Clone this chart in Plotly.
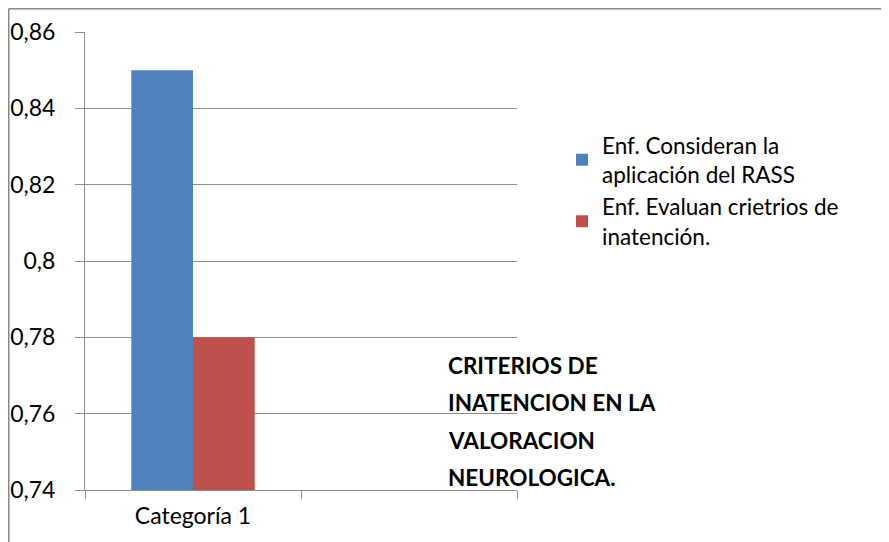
import plotly.graph_objects as go

categories = ["Categoría 1", " "]
series_names = ["Enf. Consideran la<br>aplicación del RASS", "Enf. Evaluan crietrios de<br>inatención."]
serie_rass = [0.85, None]
serie_inatencion = [0.78, None]
colors = ["#4F81BD", "#C0504D"]
y_ticks = [0.74, 0.76, 0.78, 0.80, 0.82, 0.84, 0.86]
title_lines = ["CRITERIOS DE", "INATENCION EN LA", "VALORACION", "NEUROLOGICA."]

FONT = "Lato"
GRID = "#8c8c8c"

fig = go.Figure()
for name, vals, col in zip(series_names, [serie_rass, serie_inatencion], colors):
    fig.add_trace(go.Bar(x=categories, y=vals, name=name, marker=dict(color=col, line=dict(width=0))))

# page has an 8px body margin: figure coords = page coords - 8
OFF = 8
W, H = 889 - OFF, 542 - OFF
L, T = 85 - OFF, 32 - OFF
R = W - (517 - OFF)
B = H - (490 - OFF)
pw, ph = W - L - R, H - T - B

def px_x(x):
    return (x - OFF - L) / pw

def px_y(y):
    return (H - B - (y - OFF)) / ph

annotations = []
for i, line in enumerate(title_lines):
    annotations.append(dict(
        text="<b>" + line + "</b>", xref="paper", yref="paper",
        x=px_x(446), y=px_y(365 + i * 37.5), xanchor="left", yanchor="middle",
        showarrow=False, font=dict(family=FONT, size=22.5, color="#000000"), align="left"))

fig.update_layout(
    width=W, height=H,
    margin=dict(l=L, r=R, t=T, b=B, autoexpand=False),
    paper_bgcolor="white", plot_bgcolor="white",
    separators=",.",
    barmode="group", bargap=1.5 / 3.5, bargroupgap=0,
    font=dict(family=FONT, size=23, color="#000000"),
    showlegend=True,
    legend=dict(x=px_x(562), y=px_y(124), xanchor="left", yanchor="top",
                font=dict(family=FONT, size=22.5), bgcolor="rgba(0,0,0,0)",
                itemsizing="constant", tracegroupgap=0),
    xaxis=dict(type="category", categoryorder="array", categoryarray=categories,
               showline=True, linecolor=GRID, linewidth=1,
               ticks="outside", tickson="boundaries", ticklen=8, tickcolor=GRID,
               showgrid=False, tickfont=dict(family=FONT, size=23), ticklabelstandoff=5),
    yaxis=dict(range=[0.74, 0.86], tickvals=y_ticks, showline=True, linecolor=GRID, linewidth=1,
               ticks="outside", ticklen=9, tickcolor=GRID,
               showgrid=True, gridcolor=GRID, gridwidth=1, zeroline=False,
               tickfont=dict(family=FONT, size=23), ticklabelstandoff=15),
    annotations=annotations,
    shapes=[
        dict(type="line", xref="paper", yref="paper", x0=px_x(8.75), x1=px_x(8.75), y0=px_y(8.75), y1=px_y(560),
             line=dict(color="#888888", width=1.5)),
        dict(type="line", xref="paper", yref="paper", x0=px_x(8.75), x1=px_x(900), y0=px_y(8.75), y1=px_y(8.75),
             line=dict(color="#888888", width=1.5)),
    ],
)

fig.write_html("out.html")
